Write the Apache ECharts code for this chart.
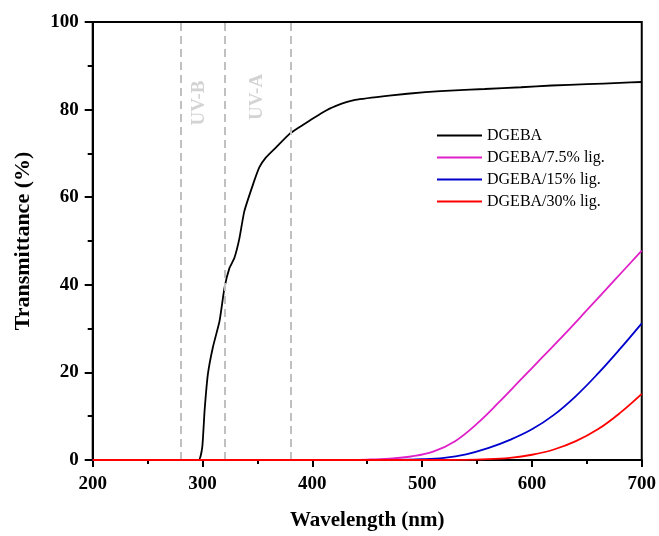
<!DOCTYPE html>
<html>
<head>
<meta charset="utf-8">
<script src="https://cdn.jsdelivr.net/npm/echarts@6/dist/echarts.min.js"></script>
<style>
  html, body { margin: 0; padding: 0; background: #fff; }
  #chart { width: 659px; height: 536px; }
</style>
</head>
<body>
<div id="chart"></div>
<script>
// UV-Vis transmittance spectra of DGEBA and lignin-loaded blends
const seriesNames = ['DGEBA', 'DGEBA/7.5% lig.', 'DGEBA/15% lig.', 'DGEBA/30% lig.'];

const dgebaWl = [200, 260, 296.5, 299.8, 301.9, 304.9, 309.4, 315.5, 320, 324.5, 329, 333.6, 338, 345.7, 351.7, 357.8, 367, 379, 387, 397, 409, 421, 439, 470, 503, 530, 557, 590, 618, 650, 680, 700];
const dgebaT  = [0, 0, 0, 3, 11.3, 19.6, 25.7, 31.7, 39.3, 43.8, 46.1, 50.6, 56.7, 62.7, 66.8, 69.1, 71.4, 74.4, 75.8, 77.4, 79.3, 80.8, 82.2, 83.2, 84.0, 84.4, 84.7, 85.1, 85.5, 85.8, 86.1, 86.3];

const lig75Wl = [200, 420, 450, 470, 490, 510, 530, 550, 570, 590, 610, 630, 650, 675, 700];
const lig75T  = [0, 0, 0.1, 0.3, 0.8, 1.9, 4.3, 8.3, 13.2, 18.4, 23.6, 28.8, 34.2, 41, 47.8];

const lig15Wl = [200, 460, 500, 520, 540, 560, 580, 600, 620, 640, 660, 680, 700];
const lig15T  = [0, 0, 0.2, 0.5, 1.3, 2.7, 4.6, 7.0, 10.3, 14.6, 19.7, 25.3, 31.2];

const lig30Wl = [200, 520, 560, 580, 600, 620, 640, 660, 680, 700];
const lig30T  = [0, 0, 0.2, 0.5, 1.2, 2.4, 4.3, 7.0, 10.7, 15.1];

// UV band boundaries (nm) and band labels
const bandEdges = [280, 320, 380];
const bandLabels = ['UV-B', 'UV-A'];
const bandLabelWl = [297.3, 349.5];
const bandLabelT = [81.5, 82.9];

const colors = ['#000000', '#e020c8', '#0000cc', '#ff0000'];
const smoothness = [0.15, 0.4, 0.4, 0.4];
const FONT = '"Liberation Serif", "Times New Roman", serif';

const pairs = (xs, ys) => xs.map((x, i) => [x, ys[i]]);

const chart = echarts.init(document.getElementById('chart'), null, { renderer: 'canvas' });

const lineSeries = [
  [dgebaWl, dgebaT],
  [lig75Wl, lig75T],
  [lig15Wl, lig15T],
  [lig30Wl, lig30T]
].map(([xs, ys], i) => ({
  name: seriesNames[i],
  type: 'line',
  data: pairs(xs, ys),
  showSymbol: false,
  smooth: smoothness[i],
  lineStyle: { color: colors[i], width: 1.8 },
  itemStyle: { color: colors[i] },
  z: 3 + i
}));

chart.setOption({
  animation: false,
  backgroundColor: '#fff',
  grid: {
    left: 92.7, right: 15, top: 22, bottom: 72.7,
    show: true, borderColor: '#000', borderWidth: 2
  },
  legend: {
    data: seriesNames,
    orient: 'vertical',
    left: 432, top: 122,
    icon: 'rect',
    itemWidth: 45, itemHeight: 2,
    itemGap: 5,
    textStyle: { fontFamily: FONT, fontSize: 16, color: '#000', lineHeight: 17 }
  },
  xAxis: {
    type: 'value',
    min: 200, max: 700, interval: 100,
    name: 'Wavelength (nm)',
    nameLocation: 'middle',
    nameGap: 50,
    nameTextStyle: { fontFamily: FONT, fontSize: 21, fontWeight: 'bold', color: '#000' },
    axisLine: { onZero: false, lineStyle: { color: '#000', width: 2 } },
    axisTick: { inside: false, length: 7, lineStyle: { color: '#000', width: 2 } },
    minorTick: { show: true, splitNumber: 2, length: 4, lineStyle: { color: '#000', width: 2 } },
    axisLabel: { fontFamily: FONT, fontSize: 19, fontWeight: 'bold', color: '#000', margin: 15 },
    splitLine: { show: false }
  },
  yAxis: {
    type: 'value',
    min: 0, max: 100, interval: 20,
    name: 'Transmittance (%)',
    nameLocation: 'middle',
    nameGap: 58,
    nameTextStyle: { fontFamily: FONT, fontSize: 22, fontWeight: 'bold', color: '#000' },
    axisLine: { lineStyle: { color: '#000', width: 2 } },
    axisTick: { inside: false, length: 8, lineStyle: { color: '#000', width: 2 } },
    minorTick: { show: true, splitNumber: 2, length: 5, lineStyle: { color: '#000', width: 2 } },
    axisLabel: { fontFamily: FONT, fontSize: 19, fontWeight: 'bold', color: '#000', margin: 14 },
    splitLine: { show: false }
  },
  series: [
    {
      name: 'bands',
      type: 'scatter',
      data: bandLabels.map((t, i) => ({ name: t, value: [bandLabelWl[i], bandLabelT[i]] })),
      symbolSize: 0,
      silent: true,
      label: {
        show: true,
        position: 'inside',
        rotate: 90,
        formatter: p => p.name,
        fontFamily: FONT, fontSize: 19, fontWeight: 'bold', color: '#c8c8c8'
      },
      markLine: {
        silent: true,
        symbol: ['none', 'none'],
        label: { show: false },
        lineStyle: { color: '#c0c0c0', width: 2, type: [8, 5] },
        data: bandEdges.map(x => ({ xAxis: x }))
      },
      z: 2
    },
    ...lineSeries
  ]
});
</script>
</body>
</html>
